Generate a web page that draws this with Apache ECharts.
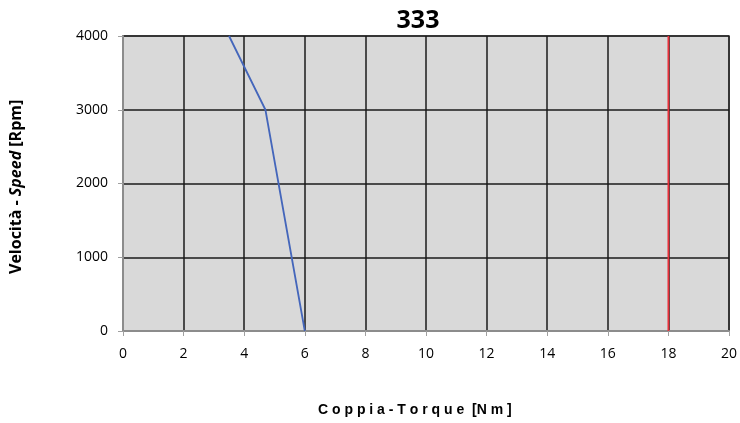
<!DOCTYPE html>
<html>
<head>
<meta charset="utf-8">
<script src="https://cdn.jsdelivr.net/npm/echarts@6/dist/echarts.min.js"></script>
<style>
  html, body { margin: 0; padding: 0; background: #fff; }
  #chart { width: 740px; height: 423px; }
</style>
</head>
<body>
<div id="chart"></div>
<script>
// Torque curve: [torque Nm, speed rpm]
const torqueCurve = [[6, 0], [4.7, 3000], [3.5, 4000]];
// Reference torque limit line
const limitLine = [[18, 0], [18, 4000]];
const xTicks = { min: 0, max: 20, interval: 2 };
const yTicks = { min: 0, max: 4000, interval: 1000 };

const chart = echarts.init(document.getElementById('chart'));
chart.setOption({
  animation: false,
  title: {
    text: '333',
    left: 413,
    top: 3,
    textAlign: 'center',
    textStyle: { fontFamily: 'Open Sans', fontWeight: 'bold', fontSize: 25, color: '#000' }
  },
  graphic: [{
    type: 'text',
    left: 318,
    top: 403,
    style: {
      text: 'C o p p i a - T o r q u e  [N m ]',
      font: 'bold 14px "Liberation Sans"',
      fill: '#000'
    }
  }, {
    type: 'text',
    x: 8,
    y: 274,
    rotation: Math.PI / 2,
    style: {
      rich: {
        a: { fontFamily: 'Open Sans', fontWeight: 'bold', fontSize: 16, fill: '#000' },
        b: { fontFamily: 'Open Sans', fontWeight: 'bold', fontStyle: 'italic', fontSize: 16, fill: '#000' }
      },
      text: '{a|Velocità - }{b|Speed}{a| [Rpm]}'
    }
  }],
  grid: {
    left: 123, right: 10, top: 36, bottom: 92,
    show: true,
    backgroundColor: '#d9d9d9',
    borderColor: '#8c8c8c',
    borderWidth: 2
  },
  xAxis: {
    type: 'value',
    min: xTicks.min, max: xTicks.max, interval: xTicks.interval,
    axisLine: { show: true, onZero: false, lineStyle: { color: '#8c8c8c', width: 2 } },
    axisTick: { show: true, length: 5, lineStyle: { color: '#a0a0a0' } },
    axisLabel: { fontFamily: 'Open Sans', fontSize: 14, color: '#000', margin: 16 },
    splitLine: { show: true, lineStyle: { color: '#1a1a1a', width: 1.5 } }
  },
  yAxis: {
    type: 'value',
    min: yTicks.min, max: yTicks.max, interval: yTicks.interval,
    axisLine: { show: true, lineStyle: { color: '#8c8c8c', width: 2 } },
    axisTick: { show: true, length: 5, lineStyle: { color: '#a0a0a0' } },
    axisLabel: { fontFamily: 'Open Sans', fontSize: 14, color: '#000', margin: 15, formatter: v => String(v) },
    splitLine: { show: true, lineStyle: { color: '#1a1a1a', width: 1.5 } }
  },
  series: [{
    type: 'line',
    data: torqueCurve,
    symbol: 'none',
    lineStyle: { color: '#4466bb', width: 1.8 }
  }, {
    type: 'line',
    data: limitLine,
    symbol: 'none',
    lineStyle: { color: '#e8303a', width: 1.8 }
  }]
});
</script>
</body>
</html>
